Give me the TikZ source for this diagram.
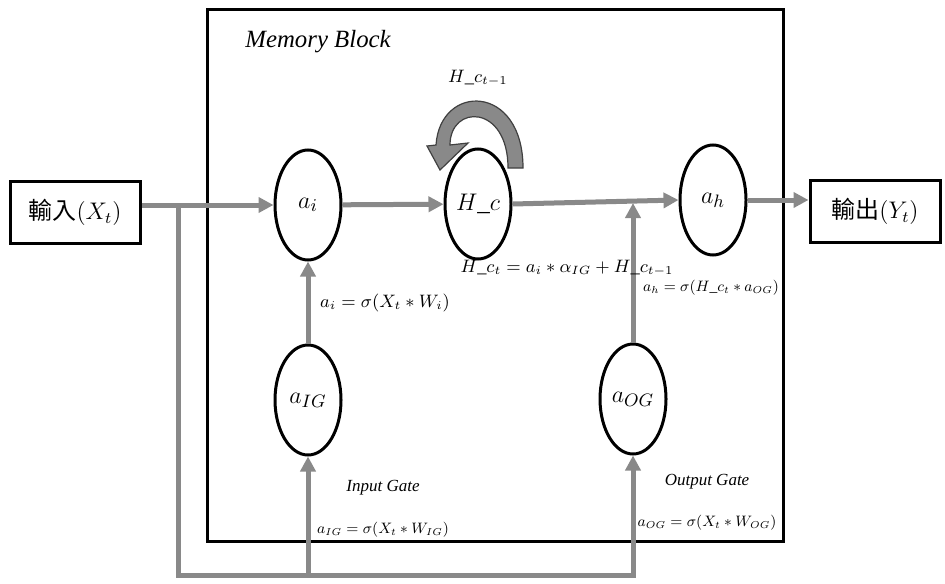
\documentclass[tikz,border=0pt]{standalone}
\usepackage{fontspec}
\setmainfont{Liberation Serif}
\newfontfamily\cjk{Noto Sans CJK TC}
\usetikzlibrary{shapes.geometric,arrows.meta}
\definecolor{flowgray}{RGB}{137,137,137}

\begin{document}
\begin{tikzpicture}[x=0.5pt,y=-0.5pt,
  cell/.style={ellipse,draw,line width=1.5pt,minimum width=33pt,minimum height=55pt,inner sep=0pt,font=\fontsize{12.5}{14}\selectfont},
  iobox/.style={draw,line width=1.5pt,minimum width=65pt,minimum height=31pt,inner sep=0pt,font=\fontsize{12}{14}\selectfont},
  flow/.style={flowgray,line width=2.5pt,-{Triangle[length=7.5pt,width=7.5pt]}},
  eqn/.style={inner sep=0pt,font=\fontsize{9.2}{11}\selectfont},
  eqnsm/.style={eqn,scale=0.84,transform shape},
  gatelbl/.style={inner sep=0pt,font=\fontsize{8.5}{10}\selectfont\itshape}]
 \useasboundingbox (0,0) rectangle (945,583);
 % memory block frame
 \draw[line width=1.5pt] (207,10) rectangle (783,541);
 \node[anchor=west,inner sep=0pt,font=\fontsize{12.4}{14}\selectfont\itshape] (blocklbl) at (245,42) {Memory Block};
 % input / output
 \node[iobox] (inbox) at (75,212.5) {{\cjk 輸入}$(X_t)$};
 \node[iobox] (outbox) at (875,211.5) {{\cjk 輸出}$(Y_t)$};
 % cells
 \node[cell] (ai) at (308,205) {$a_i$};
 \node[cell] (hc) at (478,204) {$H\_c$};
 \node[cell] (ah) at (713,200) {$a_h$};
 \node[cell] (aig) at (308,400) {$a_{IG}$};
 \node[cell] (aog) at (633,399) {$a_{OG}$};
 % self loop on H_c
 \filldraw[fill=flowgray,draw=black!75,line width=0.6pt]
   (523,168) .. controls (523,83) and (440,83) .. (436,145)
   -- (427,146) -- (440,170) -- (468,143) -- (450,145)
   .. controls (450,104) and (508,104) .. (508,168) -- cycle;
 \node[eqn] (hcprev) at (478,78) {$H\_c_{t-1}$};
 % forward flow
 \coordinate (split) at (178,205);
 \coordinate (fb1) at (178,575);
 \coordinate (fb2) at (633,575);
 \draw[flow] (ai.west -| inbox.east) -- (ai.west);
 \draw[flow] (ai) -- (hc);
 \draw[flow] (hc.east) -- (ah.west);
 \draw[flow] (ah.east) -- (ah.east -| outbox.west);
 \draw[flow] (aig) -- (ai);
 \draw[flow] (aog.north) -- (633,203);
 % feedback of the input to the gates
 \draw[flow] (split) |- (fb2) -- (aog.south);
 \draw[flow] (aig |- fb1) -- (aig.south);
 % equations
 \node[eqn] (hceq) at (567,268) {$H\_c_t = a_i * \alpha_{IG} + H\_c_{t-1}$};
 \node[eqn] (aieq) at (385,303) {$a_i = \sigma(X_t * W_i)$};
 \node[eqnsm] (aheq) at (711,288) {$a_h = \sigma(H\_c_t * a_{OG})$};
 \node[gatelbl] (iglbl) at (383,488) {Input Gate};
 \node[gatelbl] (oglbl) at (707,482) {Output Gate};
 \node[eqnsm] (aigeq) at (383,530) {$a_{IG} = \sigma(X_t * W_{IG})$};
 \node[eqnsm] (aogeq) at (707,523) {$a_{OG} = \sigma(X_t * W_{OG})$};
\end{tikzpicture}
\end{document}
